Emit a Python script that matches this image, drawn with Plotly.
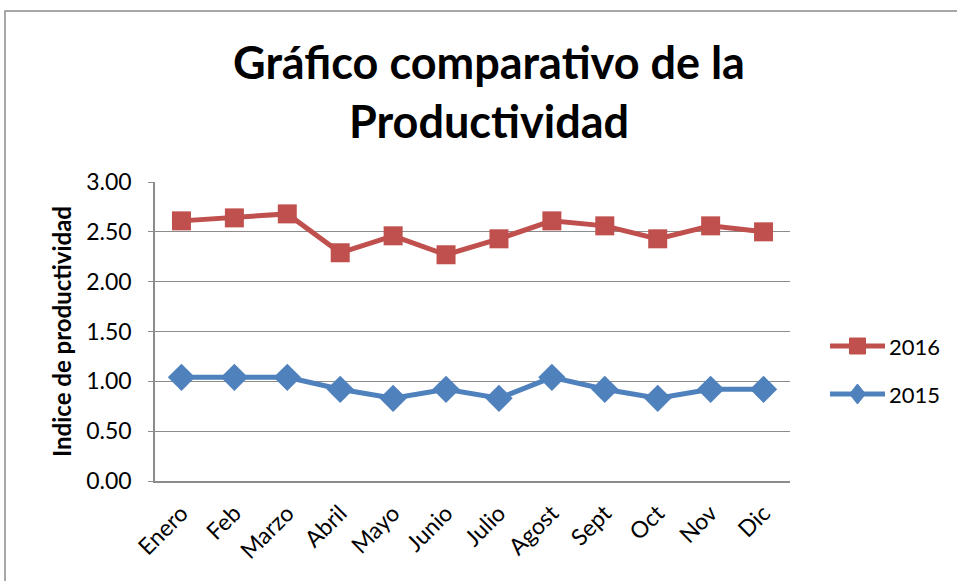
import plotly.graph_objects as go

# Monthly productivity index, two years
meses = ["Enero", "Feb", "Marzo", "Abril", "Mayo", "Junio",
         "Julio", "Agost", "Sept", "Oct", "Nov", "Dic"]
prod_2016 = [2.61, 2.64, 2.68, 2.29, 2.46, 2.27, 2.43, 2.61, 2.56, 2.43, 2.56, 2.50]
prod_2015 = [1.04, 1.04, 1.04, 0.92, 0.83, 0.92, 0.83, 1.04, 0.92, 0.83, 0.92, 0.92]

ROJO = "#C0504D"
AZUL = "#4F81BD"
GRIS = "#8C8C8C"
FUENTE = "Lato, Liberation Sans, sans-serif"

W, H = 957, 581
L, R, T, B = 155, 167, 182, 100
PW, PH = W - L - R, H - T - B


def px_x(p):
    return (p - L) / PW


def px_y(p):
    return (H - B - p) / PH


fig = go.Figure()
fig.add_trace(go.Scatter(
    x=meses, y=prod_2016, name="2016", mode="lines+markers",
    line=dict(color=ROJO, width=5),
    marker=dict(symbol="square", size=19, color=ROJO),
    showlegend=False,
))
fig.add_trace(go.Scatter(
    x=meses, y=prod_2015, name="2015", mode="lines+markers",
    line=dict(color=AZUL, width=5),
    marker=dict(symbol="diamond", size=21, color=AZUL),
    showlegend=False,
))

shapes = []
annotations = []

# Outer chart frame (left and top edges visible)
shapes.append(dict(type="rect", xref="paper", yref="paper",
                   x0=px_x(5), x1=px_x(W + 20), y0=px_y(H + 20), y1=px_y(11),
                   line=dict(color=GRIS, width=1.5), fillcolor="rgba(0,0,0,0)",
                   layer="below"))

# Legend entries drawn next to the plot area
leyenda = [("2016", ROJO, "square", 346), ("2015", AZUL, "diamond", 394)]
for nombre, color, simbolo, yy in leyenda:
    shapes.append(dict(type="line", xref="paper", yref="paper",
                       x0=px_x(830), x1=px_x(885), y0=px_y(yy), y1=px_y(yy),
                       line=dict(color=color, width=5)))
    if simbolo == "square":
        path = "M-8,-8 L8,-8 L8,8 L-8,8 Z"
    else:
        path = "M0,-10 L8,0 L0,10 L-8,0 Z"
    shapes.append(dict(type="path", xref="paper", yref="paper",
                       xsizemode="pixel", ysizemode="pixel",
                       xanchor=px_x(857.5), yanchor=px_y(yy),
                       path=path, fillcolor=color, line=dict(color=color, width=1)))
    annotations.append(dict(x=px_x(887), y=px_y(yy), xref="paper", yref="paper",
                            text=nombre, showarrow=False, xanchor="left",
                            yanchor="middle", font=dict(size=22, color="black",
                                                        family=FUENTE)))

fig.update_layout(
    width=W, height=H,
    margin=dict(l=L, r=R, t=T, b=B),
    paper_bgcolor="white", plot_bgcolor="white",
    font=dict(family=FUENTE, color="black"),
    title=dict(text="<b>Gráfico comparativo de la<br>Productividad</b>",
               x=489 / W, xanchor="center", xref="container",
               y=1 - 79 / H, yanchor="middle", yref="container",
               font=dict(size=45, color="black", family=FUENTE)),
    shapes=shapes,
    annotations=annotations,
    showlegend=False,
)

fig.update_xaxes(
    type="category", range=[-0.5, 11.5],
    tickangle=-45, tickfont=dict(size=23, color="black"),
    showline=True, linecolor=GRIS, linewidth=1.5,
    showgrid=False, ticks="", fixedrange=True,
    ticklabelstandoff=8,
)
fig.update_yaxes(
    range=[0, 3], dtick=0.5, tickformat=".2f",
    tickfont=dict(size=23, color="black"),
    showgrid=True, gridcolor=GRIS, gridwidth=1.3,
    showline=True, linecolor=GRIS, linewidth=1.5,
    ticks="outside", ticklen=5, tickcolor=GRIS,
    ticklabelstandoff=12, zeroline=False,
    title=dict(text="<b>Indice de productividad</b>", standoff=8,
               font=dict(size=24, color="black")),
    fixedrange=True,
)

fig.write_html("out.html")
